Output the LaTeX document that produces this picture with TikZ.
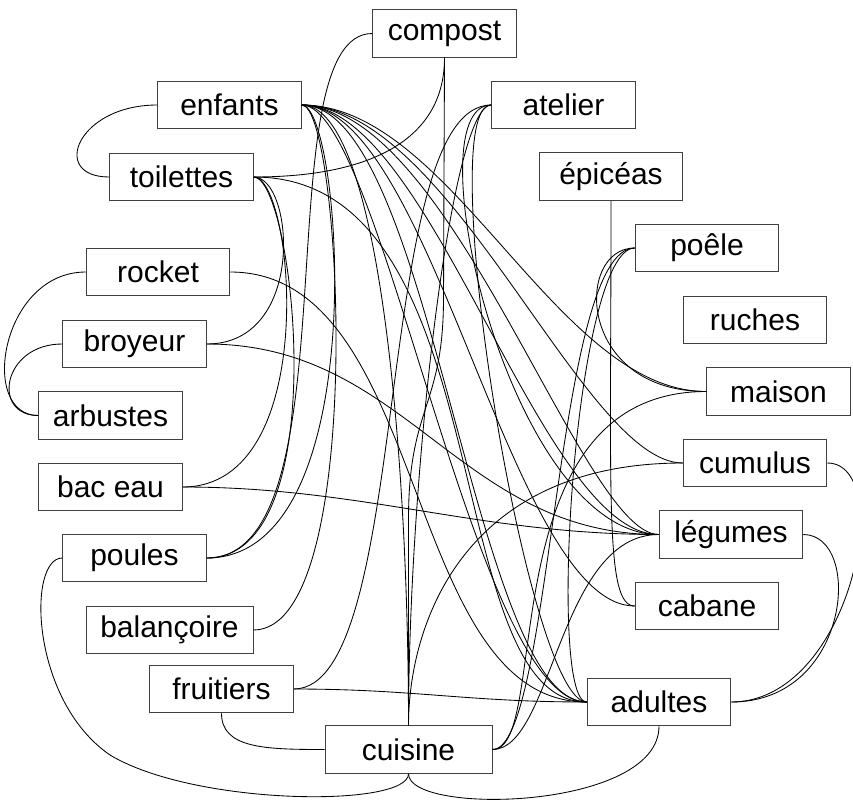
\documentclass[tikz,border=0pt]{standalone}
\usepackage{fontspec}
\setmainfont{Liberation Sans}
\usetikzlibrary{calc}
\begin{document}
\begin{tikzpicture}[x=1pt,y=-1pt,
  box/.style={draw=black!75,line width=1pt,fill=white,minimum width=143.5pt,minimum height=47.5pt,inner sep=0pt,font=\fontsize{30}{30}\selectfont},
  wbox/.style={box,minimum width=167pt},
  edge/.style={line width=0.85pt,black}]
\useasboundingbox (0,0) rectangle (853,803);
% nodes
\node[box] (compost) at (444.5,33.5) {compost};
\node[box] (enfants) at (229.5,105) {enfants};
\node[box] (toilettes) at (181.5,177) {toilettes};
\node[box] (atelier) at (563.5,105) {atelier};
\node[box] (epiceas) at (611,176.5) {épicéas};
\node[box] (poele) at (707,248) {poêle};
\node[box] (rocket) at (158,272) {rocket};
\node[box] (broyeur) at (134.5,344) {broyeur};
\node[box] (arbustes) at (110.5,415.5) {arbustes};
\node[box] (baceau) at (110.5,487) {bac eau};
\node[box] (ruches) at (755,320) {ruches};
\node[box] (maison) at (778.5,391.5) {maison};
\node[box] (cumulus) at (755,463) {cumulus};
\node[box] (legumes) at (731,534.5) {légumes};
\node[box] (poules) at (134.5,558) {poules};
\node[wbox] (balancoire) at (169.5,630) {balançoire};
\node[box] (fruitiers) at (221.5,689) {fruitiers};
\node[wbox] (cuisine) at (408.5,749.5) {cuisine};
\node[box] (cabane) at (707,606) {cabane};
\node[box] (adultes) at (659,702) {adultes};
% edges
\draw[edge] (compost.south) -- ++(-1,240) .. controls +(0,110) and ($(cuisine.north)+(0,-320)$) .. ($(cuisine.north)+(0,-206)$) -- (cuisine.north);
\draw[edge] (compost.west) .. controls +(-110,0) and +(150,0) .. (poules.east);
\draw[edge] (toilettes.east) .. controls +(120,0) and +(0,80) .. (compost.south);
\draw[edge] (enfants.west) .. controls +(-80,0) and +(-60,0) .. (toilettes.west);
% enfants fan
\draw[edge] (enfants.east) .. controls +(150,0) and +(-150,0) .. (maison.west);
\draw[edge] (enfants.east) .. controls +(150,0) and +(-100,0) .. (cumulus.west);
\draw[edge] (enfants.east) .. controls +(150,0) and +(-77,0) .. (legumes.west);
\draw[edge] (enfants.east) .. controls +(130,0) and +(-119,0) .. (legumes.west);
\draw[edge] (enfants.east) .. controls +(130,0) and +(-124,0) .. (cabane.west);
\draw[edge] (enfants.east) .. controls +(130,0) and +(-114,0) .. (adultes.west);
\draw[edge] (enfants.east) .. controls +(80,0) and +(-113,0) .. (adultes.west);
\draw[edge] (enfants.east) .. controls +(80,0) and +(0,-250) .. (cuisine.north);
\draw[edge] (enfants.east) .. controls +(40,0) and +(115,0) .. (balancoire.east);
\draw[edge] (enfants.east) .. controls +(40,0) and +(170,0) .. (poules.east);
% toilettes fan
\draw[edge] (toilettes.east) .. controls +(40,0) and +(100,0) .. (broyeur.east);
\draw[edge] (toilettes.east) .. controls +(40,0) and +(140,0) .. (baceau.east);
\draw[edge] (toilettes.east) .. controls +(40,0) and +(130,0) .. (poules.east);
\draw[edge] (toilettes.east) .. controls +(250,0) and +(-150,0) .. (adultes.west);
% left loops
\draw[edge] (rocket.west) .. controls +(-85,0) and +(-60,0) .. (arbustes.west);
\draw[edge] (broyeur.west) .. controls +(-60,0) and +(-47,0) .. (arbustes.west);
\draw[edge] (rocket.east) .. controls +(200,0) and +(-185,0) .. (adultes.west);
\draw[edge] (broyeur.east) .. controls +(200,0) and +(-200,0) .. (legumes.west);
\draw[edge] (baceau.east) .. controls +(180,0) and +(-180,0) .. (legumes.west);
% bottom
\draw[edge] (poules.west) .. controls +(-35,0) and (30,700) .. (110,755) .. controls (195,806) and ($(cuisine.south)+(0,34)$) .. (cuisine.south);
\draw[edge] (fruitiers.south) .. controls +(0,35) and +(-60,0) .. (cuisine.west);
\draw[edge] (fruitiers.east) .. controls +(120,0) and +(-120,0) .. (adultes.west);
\draw[edge] (adultes.south) .. controls +(0,84) and +(0,42) .. (cuisine.south);
% atelier
\draw[edge] (atelier.west) .. controls +(-40,0) and +(0,-250) .. (cuisine.north);
\draw[edge] (atelier.west) .. controls +(-60,0) and +(-60,0) .. (adultes.west);
\draw[edge] (atelier.west) .. controls +(-120,0) and +(120,0) .. (fruitiers.east);
\draw[edge] (atelier.west) .. controls +(-80,0) and +(-150,0) .. (legumes.west);
% right side
\draw[edge] (epiceas.south) .. controls +(0,300) and +(-30,0) .. (cabane.west);
\draw[edge] (poele.west) .. controls +(-60,0) and +(-130,0) .. (maison.west);
\draw[edge] (poele.west) .. controls +(-80,0) and +(60,0) .. (cuisine.east);
\draw[edge] (poele.west) .. controls +(-60,0) and +(-40,0) .. (adultes.west);
\draw[edge] (maison.west) .. controls +(-220,0) and +(60,0) .. (cuisine.east);
\draw[edge] (cumulus.west) .. controls +(-220,0) and +(0,-100) .. (cuisine.north);
\draw[edge] (legumes.west) .. controls +(-100,0) and +(60,0) .. (cuisine.east);
\draw[edge] (cumulus.east) .. controls +(70,0) and +(120,0) .. (adultes.east);
\draw[edge] (legumes.east) .. controls +(60,0) and +(120,0) .. (adultes.east);
\end{tikzpicture}
\end{document}
